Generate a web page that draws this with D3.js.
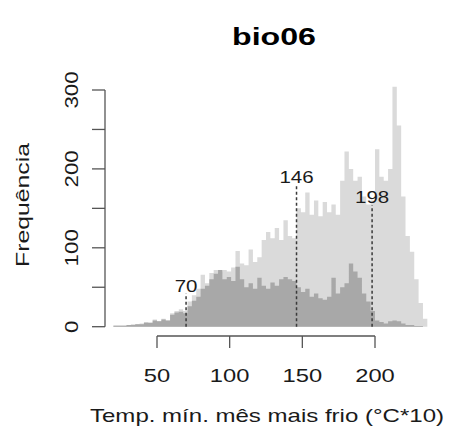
<!DOCTYPE html>
<html>
<head>
<meta charset="utf-8">
<script src="https://cdn.jsdelivr.net/npm/d3@7"></script>
<style>
  html, body { margin: 0; padding: 0; background: #fff; }
  svg { display: block; font-family: "Liberation Sans", Arial, sans-serif; }
</style>
</head>
<body>
<svg id="chart" width="454" height="441"></svg>
<script>
// ---- data ----
const binWidth = 3;
const binStarts = [20,23,26,29,32,35,38,41,44,47,50,53,56,59,62,65,68,71,74,77,80,83,86,89,92,95,98,101,104,107,110,113,116,119,122,125,128,131,134,137,140,143,146,149,152,155,158,161,164,167,170,173,176,179,182,185,188,191,194,197,200,203,206,209,212,215,218,221,224,227,230,233];
const totalCounts = [2,2,2,2,3,3,4,6,5,9,7,10,8,17,20,22,20,32,40,48,66,55,68,72,70,72,70,75,96,80,78,98,82,88,110,120,112,125,110,135,115,112,150,145,170,142,160,140,158,145,155,142,185,222,200,185,190,165,155,160,225,190,185,200,304,255,165,115,95,60,30,10];
const subsetCounts = [1,1,1,2,2,3,3,5,5,8,7,9,8,15,18,19,17,26,33,38,48,52,60,67,72,60,63,58,76,60,50,55,48,62,52,48,56,52,60,63,60,58,50,44,48,38,42,36,34,38,62,42,50,55,80,70,62,42,32,20,8,6,4,7,8,7,4,2,2,1,1,0];
const markers = [70, 146, 198];
const markerTops = [42, 180, 154];
const xTicks = [50, 100, 150, 200];
const yTicks = [0, 50, 100, 150, 200, 250, 300];
const yTickLabels = [0, 100, 200, 300];
const title = "bio06";
const xTitle = "Temp. mín. mês mais frio (°C*10)";
const yTitle = "Frequência";

// ---- scales ----
const x = d3.scaleLinear().domain([50, 200]).range([157, 375]);
const y = d3.scaleLinear().domain([0, 300]).range([326.7, 90]);

const svg = d3.select("#chart");

// step points: each bin start with its count, plus closing point at last bin end
function stepPoints(counts) {
  const pts = binStarts.map((s, i) => ({ v: s, c: counts[i] }));
  pts.push({ v: binStarts[binStarts.length - 1] + binWidth, c: counts[counts.length - 1] });
  return pts;
}
const area = d3.area()
  .x(d => x(d.v))
  .y0(y(0))
  .y1(d => y(d.c))
  .curve(d3.curveStepAfter);

svg.append("path").datum(stepPoints(totalCounts))
  .attr("d", area).attr("fill", "#dadada");
svg.append("path").datum(stepPoints(subsetCounts))
  .attr("d", area).attr("fill", "#a8a8a8");

// dashed marker lines + labels
const mg = svg.append("g");
markers.forEach((m, i) => {
  mg.append("line")
    .attr("x1", x(m)).attr("x2", x(m))
    .attr("y1", y(0)).attr("y2", y(markerTops[i]))
    .attr("stroke", "#3a3a3a").attr("stroke-width", 1.5)
    .attr("stroke-dasharray", "3,2.5");
  const lbl = String(m);
  mg.append("text")
    .attr("x", x(m)).attr("y", y(markerTops[i]) - 2)
    .attr("text-anchor", "middle")
    .attr("font-size", 16.5)
    .attr("textLength", lbl.length * 11.4)
    .attr("lengthAdjust", "spacingAndGlyphs")
    .attr("fill", "#1a1a1a")
    .text(lbl);
});

// y axis
const ya = svg.append("g");
const axX = 105;
ya.append("line").attr("x1", axX).attr("x2", axX)
  .attr("y1", y(0)).attr("y2", y(300))
  .attr("stroke", "#555").attr("stroke-width", 1.3);
ya.selectAll("line.tick").data(yTicks).join("line").attr("class", "tick")
  .attr("x1", axX - 13).attr("x2", axX)
  .attr("y1", d => y(d)).attr("y2", d => y(d))
  .attr("stroke", "#555").attr("stroke-width", 1.3);
ya.selectAll("text").data(yTickLabels).join("text")
  .attr("transform", d => `translate(78,${y(d)}) rotate(-90)`)
  .attr("text-anchor", "middle")
  .attr("font-size", 18.5)
  .attr("textLength", d => String(d).length * 12.4)
  .attr("lengthAdjust", "spacingAndGlyphs")
  .attr("fill", "#1a1a1a")
  .text(d => d);

// x axis
const xa = svg.append("g");
const axY = 336;
xa.append("line").attr("x1", x(50)).attr("x2", x(200))
  .attr("y1", axY).attr("y2", axY)
  .attr("stroke", "#555").attr("stroke-width", 1.3);
xa.selectAll("line.tick").data(xTicks).join("line").attr("class", "tick")
  .attr("x1", d => x(d)).attr("x2", d => x(d))
  .attr("y1", axY).attr("y2", axY + 12)
  .attr("stroke", "#555").attr("stroke-width", 1.3);
xa.selectAll("text").data(xTicks).join("text")
  .attr("x", d => x(d)).attr("y", 382)
  .attr("text-anchor", "middle")
  .attr("font-size", 18.5)
  .attr("textLength", d => String(d).length * 13.2)
  .attr("lengthAdjust", "spacingAndGlyphs")
  .attr("fill", "#1a1a1a")
  .text(d => d);

// titles
svg.append("text")
  .attr("x", 274).attr("y", 45)
  .attr("text-anchor", "middle")
  .attr("font-size", 24).attr("font-weight", "bold")
  .attr("textLength", 84).attr("lengthAdjust", "spacingAndGlyphs")
  .attr("fill", "#000")
  .text(title);

svg.append("text")
  .attr("x", 267).attr("y", 422)
  .attr("text-anchor", "middle")
  .attr("font-size", 18.5)
  .attr("textLength", 354).attr("lengthAdjust", "spacingAndGlyphs")
  .attr("fill", "#1a1a1a")
  .text(xTitle);

svg.append("text")
  .attr("transform", "translate(29,205) rotate(-90)")
  .attr("text-anchor", "middle")
  .attr("font-size", 18.5)
  .attr("textLength", 124).attr("lengthAdjust", "spacingAndGlyphs")
  .attr("fill", "#1a1a1a")
  .text(yTitle);
</script>
</body>
</html>
